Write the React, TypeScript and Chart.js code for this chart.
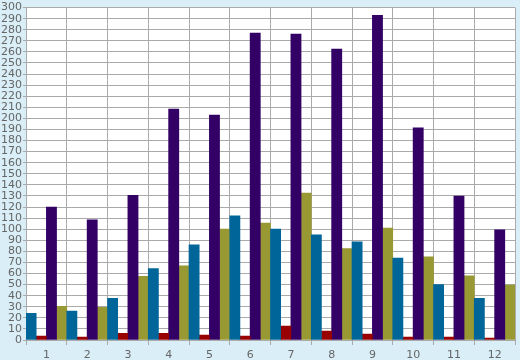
import React, { useEffect, useRef } from "react";
import { Chart, registerables } from "chart.js";

Chart.register(...registerables);

const categories = ["1", "2", "3", "4", "5", "6", "7", "8", "9", "10", "11", "12"];
const blueValues = [24, 26, 37.5, 64.5, 86, 112, 100, 95, 88.5, 74, 50, 37.5];
const redValues = [3.6, 2.7, 6, 6, 4.5, 3.6, 12.5, 8, 5.4, 2.7, 2.7, 1.8];
const purpleValues = [120, 108.5, 130.5, 208.5, 203, 277, 276, 262.5, 293, 191.5, 130, 99.5];
const oliveValues = [30.5, 29.5, 57.5, 67, 100, 105.5, 132.5, 82.5, 101, 75, 58, 49.5];

const bgPlugin = {
  id: "plotBg",
  beforeDraw(chart: any) {
    const { ctx, chartArea } = chart;
    ctx.save();
    ctx.fillStyle = "#ffffff";
    ctx.fillRect(chartArea.left, chartArea.top, chartArea.right - chartArea.left, chartArea.bottom - chartArea.top);
    ctx.restore();
  },
};

export default function App() {
  const ref = useRef<HTMLCanvasElement>(null);
  useEffect(() => {
    document.body.style.margin = "0";
    const font = { family: "DejaVu Sans", size: 11 };
    const chart = new Chart(ref.current!, {
      type: "bar",
      data: {
        labels: categories,
        datasets: [
          { label: "A", data: blueValues, backgroundColor: "#006699" },
          { label: "B", data: redValues, backgroundColor: "#990000" },
          { label: "C", data: purpleValues, backgroundColor: "#330066" },
          { label: "D", data: oliveValues, backgroundColor: "#999933" },
        ],
      },
      options: {
        animation: false,
        responsive: false,
        maintainAspectRatio: false,
        layout: { padding: { top: 5, right: 5, left: 0, bottom: 0 } },
        plugins: { legend: { display: false }, tooltip: { enabled: false } },
        datasets: { bar: { barPercentage: 1, categoryPercentage: 1, borderWidth: 0 } },
        scales: {
          x: {
            offset: true,
            grid: { offset: true, color: "#aaaaaa", lineWidth: 1, tickLength: 5, drawTicks: true },
            border: { color: "#aaaaaa" },
            ticks: { color: "#666666", font, padding: 4, maxRotation: 0 },
            afterFit(scale: any) {
              scale.height = 20;
            },
          },
          y: {
            min: 0,
            max: 300,
            grid: { color: "#aaaaaa", lineWidth: 1, tickLength: 3 },
            border: { color: "#aaaaaa" },
            ticks: { stepSize: 10, color: "#666666", font, padding: 1, autoSkip: false },
            afterFit(scale: any) {
              scale.width = 26;
            },
          },
        },
      },
      plugins: [bgPlugin],
    });
    return () => chart.destroy();
  }, []);
  return (
    <div style={{ position: "absolute", left: 0, top: 0, width: 520, height: 360, background: "#d9eef6" }}>
      <canvas ref={ref} width={520} height={360} />
    </div>
  );
}
